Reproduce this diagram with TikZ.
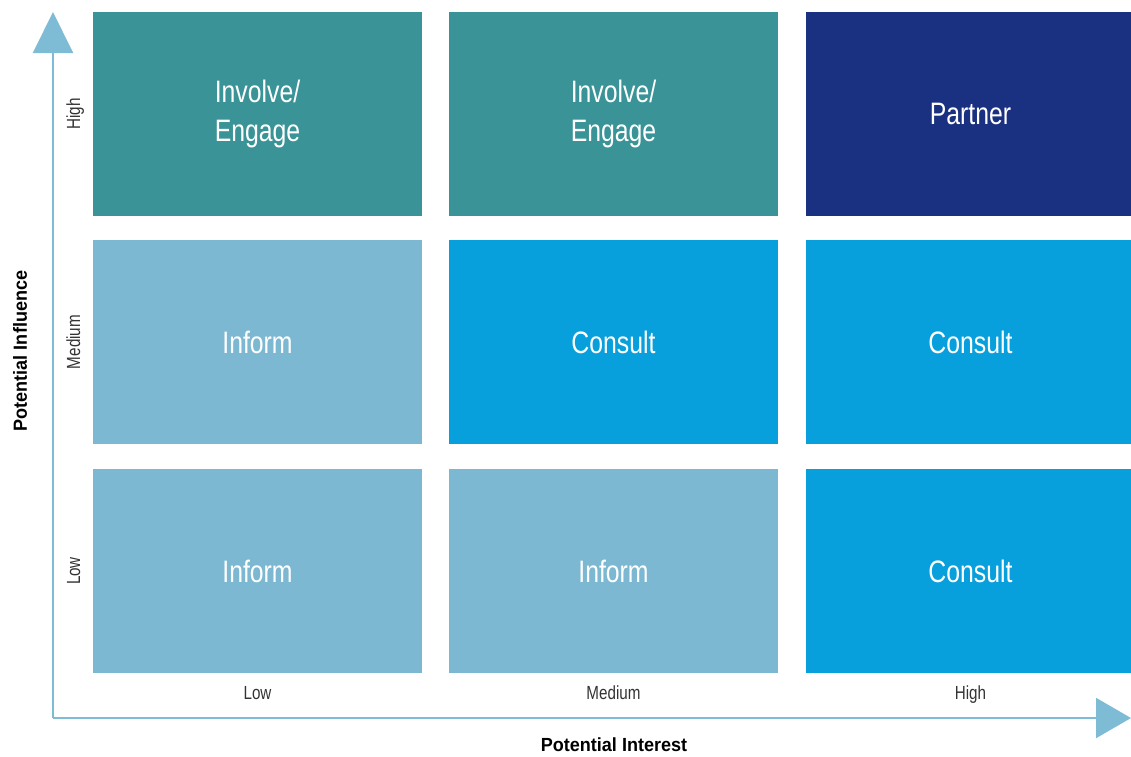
\documentclass[tikz,border=0pt]{standalone}
\usepackage{fontspec}
\setmainfont{Liberation Sans}[FakeStretch=0.8]
\newfontfamily\titlefont{Liberation Sans}[FakeStretch=0.95]
\usetikzlibrary{arrows.meta}

\definecolor{tealbox}{HTML}{3A9497}
\definecolor{navybox}{HTML}{1A3080}
\definecolor{palebox}{HTML}{7DB8D2}
\definecolor{bluebox}{HTML}{08A0DC}
\definecolor{axisblue}{HTML}{7DBCD4}
\definecolor{ticktext}{HTML}{333333}

\begin{document}
\begin{tikzpicture}[x=1pt, y=-1pt,
  cell/.style={minimum width=329pt, minimum height=204pt, inner sep=0pt,
    text=white, align=center, font=\fontsize{31}{39}\selectfont},
  tick/.style={text=ticktext, text height=14pt, text depth=4pt, inner sep=0pt,
    font=\fontsize{19}{22}\selectfont},
  title/.style={text=black, text height=14pt, text depth=4pt, inner sep=0pt,
    font=\titlefont\fontsize{19}{22}\selectfont\bfseries}]

\useasboundingbox (0,0) rectangle (1131,756);

% Draw x and y axis lines
\coordinate (origin) at (53,718);
\coordinate (ytip) at (53,12);
\coordinate (xtip) at (1131,718);
\draw [line width=2pt, axisblue, -{Triangle[width=40pt,length=41pt]}] (origin) -- (ytip);
\draw [line width=2pt, axisblue, -{Triangle[width=40pt,length=35pt]}] (origin) -- (xtip);

% Top row
\node [cell, fill=tealbox] (hl) at (257.5,114) {Involve/\\Engage};
\node [cell, fill=tealbox] (hm) at (613.5,114) {Involve/\\Engage};
\node [cell, fill=navybox] (hh) at (970.5,114) {Partner};

% Middle row
\node [cell, fill=palebox] (ml) at (257.5,342) {Inform};
\node [cell, fill=bluebox] (mm) at (613.5,342) {Consult};
\node [cell, fill=bluebox] (mh) at (970.5,342) {Consult};

% Bottom row
\node [cell, fill=palebox] (ll) at (257.5,571) {Inform};
\node [cell, fill=palebox] (lm) at (613.5,571) {Inform};
\node [cell, fill=bluebox] (lh) at (970.5,571) {Consult};

% Influence levels
\node [tick, rotate=90] (inflow) at (75,571) {Low};
\node [tick, rotate=90] (infmed) at (75,342) {Medium};
\node [tick, rotate=90] (infhigh) at (75,114) {High};
\node [title, rotate=90] (influence) at (22,351) {Potential Influence};

% Interest levels
\node [tick] (intlow) at (257.5,694) {Low};
\node [tick] (intmed) at (613.5,694) {Medium};
\node [tick] (inthigh) at (970.5,694) {High};
\node [title] (interest) at (614,746) {Potential Interest};

\end{tikzpicture}
\end{document}
